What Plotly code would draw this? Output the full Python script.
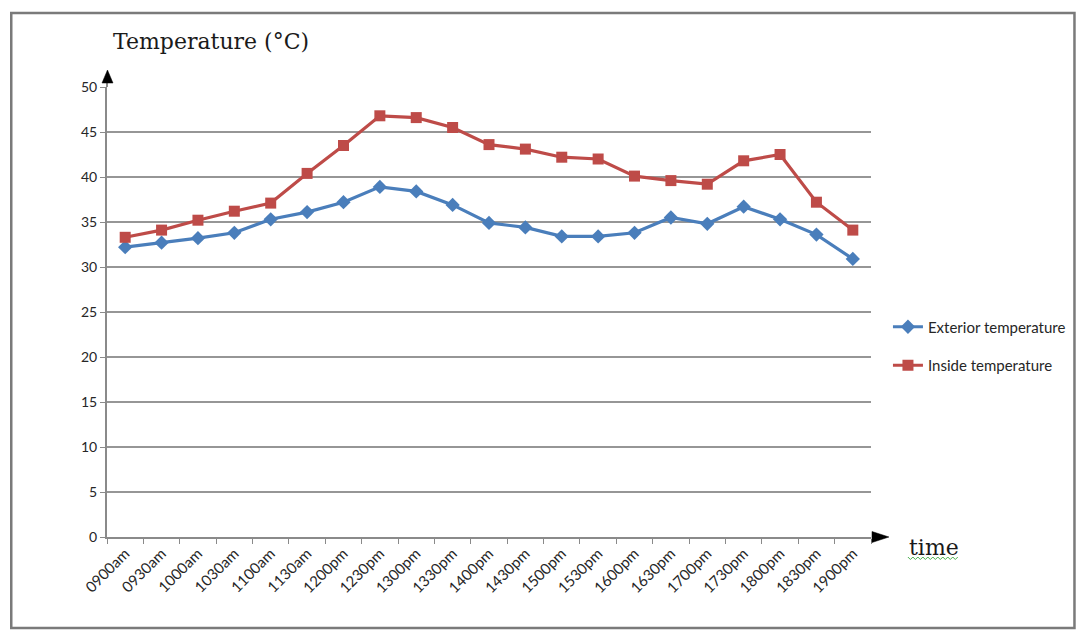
import plotly.graph_objects as go

# Half-hourly readings
times = ["0900am", "0930am", "1000am", "1030am", "1100am", "1130am", "1200pm",
         "1230pm", "1300pm", "1330pm", "1400pm", "1430pm", "1500pm", "1530pm",
         "1600pm", "1630pm", "1700pm", "1730pm", "1800pm", "1830pm", "1900pm"]
exterior = [32.2, 32.7, 33.2, 33.8, 35.3, 36.1, 37.2, 38.9, 38.4, 36.9, 34.9,
            34.4, 33.4, 33.4, 33.8, 35.5, 34.8, 36.7, 35.3, 33.6, 30.9]
inside = [33.3, 34.1, 35.2, 36.2, 37.1, 40.4, 43.5, 46.8, 46.6, 45.5, 43.6,
          43.1, 42.2, 42.0, 40.1, 39.6, 39.2, 41.8, 42.5, 37.2, 34.1]
y_ticks = [0, 5, 10, 15, 20, 25, 30, 35, 40, 45, 50]

W, H = 1083, 634
L, R, T, B = 107, 873, 87, 537

def px(x):
    return (x - L) / (R - L)

def py(y):
    return (B - y) / (B - T)

fig = go.Figure()
fig.add_trace(go.Scatter(
    x=times, y=exterior, name="Exterior temperature", mode="lines+markers",
    line=dict(color="#4a7ebb", width=3.2),
    marker=dict(symbol="diamond", size=11, color="#4a7ebb"),
    legendgroup="a"))
fig.add_trace(go.Scatter(
    x=times, y=inside, name="Inside temperature", mode="lines+markers",
    line=dict(color="#be4b48", width=3.2),
    marker=dict(symbol="square", size=11, color="#be4b48"),
    legendgroup="b"))

x_tick_font = dict(family="Lato, sans-serif", size=15, color="#262626")
y_tick_font = dict(family="Lato, sans-serif", size=14, color="#262626")

fig.update_layout(
    width=W, height=H,
    margin=dict(l=L, r=W - R, t=T, b=H - B),
    paper_bgcolor="white", plot_bgcolor="white",
    showlegend=True,
    legend=dict(x=px(890), y=py(346), xanchor="left", yanchor="middle",
                font=dict(family="Lato, sans-serif", size=15, color="#262626"),
                tracegroupgap=16, itemwidth=30, traceorder="grouped",
                bgcolor="rgba(0,0,0,0)"),
    xaxis=dict(type="category", range=[-0.5, len(times) - 0.5],
               showgrid=False, showline=True, linecolor="#8a8a8a", linewidth=2,
               ticks="outside", tickson="boundaries", ticklen=5, tickcolor="#8a8a8a",
               tickangle=-45, tickfont=x_tick_font),
    yaxis=dict(range=[0, 50], tickvals=y_ticks, showgrid=True, gridcolor="#969696",
               gridwidth=1.5, zeroline=False, showline=True, linecolor="#8a8a8a",
               linewidth=2, ticks="outside", ticklen=5, tickcolor="#8a8a8a",
               tickfont=y_tick_font),
)

shapes = []
# outer frame
shapes.append(dict(type="rect", xref="paper", yref="paper",
                   x0=px(11), x1=px(1077), y0=py(628), y1=py(13),
                   line=dict(color="#7a7a7a", width=2.5)))
# y axis extension and arrowhead
shapes.append(dict(type="line", xref="paper", yref="paper",
                   x0=px(107), x1=px(107), y0=py(87), y1=py(80),
                   line=dict(color="#8a8a8a", width=2)))
shapes.append(dict(type="path", xref="paper", yref="paper",
                   path=f"M {px(102)} {py(83)} L {px(107.5)} {py(70)} L {px(113)} {py(83)} Z",
                   fillcolor="black", line=dict(color="black", width=0.5)))
# x axis arrowhead
shapes.append(dict(type="path", xref="paper", yref="paper",
                   path=f"M {px(874)} {py(531.5)} L {px(891)} {py(537)} L {px(874)} {py(542.5)} Z",
                   fillcolor="black", line=dict(color="black", width=0.5)))
# wavy underline under "time"
wave = []
xw = 910.0
k = 0
while xw <= 961:
    yy = 557 if k % 2 == 0 else 559.5
    wave.append(f"{'M' if k == 0 else 'L'} {px(xw)} {py(yy)}")
    xw += 2.5
    k += 1
shapes.append(dict(type="path", xref="paper", yref="paper", path=" ".join(wave),
                   line=dict(color="#4caf50", width=1)))
fig.update_layout(shapes=shapes)

fig.add_annotation(text="Temperature (°C)", xref="paper", yref="paper",
                   x=px(111), y=py(42), xanchor="left", yanchor="middle",
                   showarrow=False,
                   font=dict(family="DejaVu Serif, serif", size=22, color="#1a1a1a"))
fig.add_annotation(text="time", xref="paper", yref="paper",
                   x=px(909), y=py(547), xanchor="left", yanchor="middle",
                   showarrow=False,
                   font=dict(family="DejaVu Serif, serif", size=22, color="#1a1a1a"))

fig.write_html("out.html")
